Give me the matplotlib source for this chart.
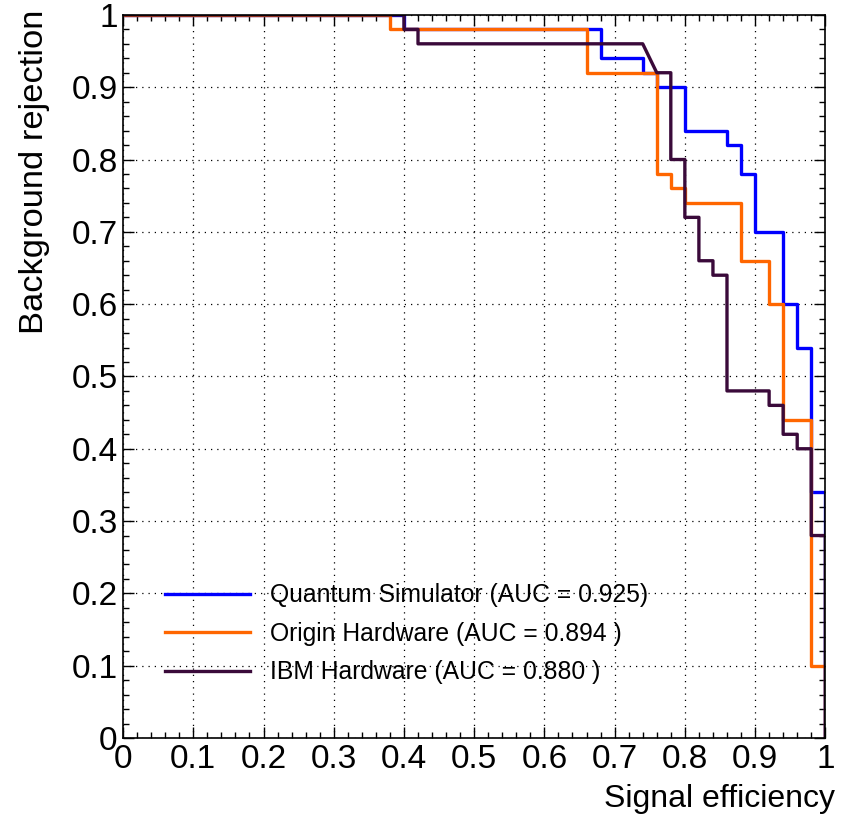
import matplotlib
matplotlib.use("Agg")
import matplotlib.pyplot as plt
from matplotlib.ticker import MultipleLocator, FormatStrFormatter

# ROC curves (signal efficiency, background rejection)
sim_eff = [0, 0.40, 0.40, 0.68, 0.68, 0.74, 0.74, 0.76, 0.76, 0.80, 0.80, 0.86, 0.86,
           0.88, 0.88, 0.90, 0.90, 0.94, 0.94, 0.96, 0.96, 0.98, 0.98, 1.0, 1.0]
sim_rej = [1, 1, 0.98, 0.98, 0.94, 0.94, 0.92, 0.92, 0.90, 0.90, 0.84, 0.84, 0.82,
           0.82, 0.78, 0.78, 0.70, 0.70, 0.60, 0.60, 0.54, 0.54, 0.34, 0.34, 0]

origin_eff = [0, 0.38, 0.38, 0.66, 0.66, 0.76, 0.76, 0.78, 0.78, 0.80, 0.80, 0.88, 0.88,
              0.92, 0.92, 0.94, 0.94, 0.98, 0.98, 1.0, 1.0]
origin_rej = [1, 1, 0.98, 0.98, 0.92, 0.92, 0.78, 0.78, 0.76, 0.76, 0.74, 0.74, 0.66,
              0.66, 0.60, 0.60, 0.44, 0.44, 0.10, 0.10, 0]

ibm_eff = [0, 0.40, 0.40, 0.42, 0.42, 0.74, 0.76, 0.78, 0.78, 0.80, 0.80, 0.82, 0.82,
           0.84, 0.84, 0.86, 0.86, 0.92, 0.92, 0.94, 0.94, 0.96, 0.96, 0.98, 0.98, 1.0, 1.0]
ibm_rej = [1, 1, 0.98, 0.98, 0.96, 0.96, 0.92, 0.92, 0.80, 0.80, 0.72, 0.72, 0.66,
           0.66, 0.64, 0.64, 0.48, 0.48, 0.46, 0.46, 0.42, 0.42, 0.40, 0.40, 0.28, 0.28, 0]

labels = ["Quantum Simulator (AUC = 0.925)",
          "Origin Hardware (AUC = 0.894 )",
          "IBM Hardware (AUC = 0.880 )"]
colors = ["#0000ff", "#ff6600", "#3a0a3a"]

plt.rcParams['font.family'] = ['Liberation Sans', 'DejaVu Sans']

fig = plt.figure(figsize=(8.43, 8.18), dpi=100)
ax = fig.add_axes([0.146, 0.0978, 0.833, 0.884])

ax.plot(sim_eff, sim_rej, color=colors[0], lw=2.4, label=labels[0])
ax.plot(origin_eff, origin_rej, color=colors[1], lw=2.4, label=labels[1])
ax.plot(ibm_eff, ibm_rej, color=colors[2], lw=2.4, label=labels[2])

ax.set_xlim(0, 1)
ax.set_ylim(0, 1)

ax.xaxis.set_major_locator(MultipleLocator(0.1))
ax.xaxis.set_minor_locator(MultipleLocator(0.02))
ax.yaxis.set_major_locator(MultipleLocator(0.1))
ax.yaxis.set_minor_locator(MultipleLocator(0.02))
ax.xaxis.set_major_formatter(FormatStrFormatter('%g'))
ax.yaxis.set_major_formatter(FormatStrFormatter('%g'))

ax.tick_params(which='both', direction='in', top=True, right=True, labelsize=24,
               width=1, color='black')
ax.tick_params(which='major', length=8, pad=4)
ax.tick_params(which='minor', length=4)
for sp in ax.spines.values():
    sp.set_linewidth(1.2)

ax.grid(True, which='major', color='black', linestyle=(0, (1, 4)), linewidth=0.9)

ax.set_xlabel("Signal efficiency", fontsize=23, ha='right', va='top')
ax.xaxis.set_label_coords(1.0142, -0.064)
ax.set_ylabel("Background rejection", fontsize=24.8, ha='right')
ax.yaxis.set_label_coords(-0.104, 1.007)

ax.legend(loc='upper left', bbox_to_anchor=(0.0598, 0.214), frameon=False, fontsize=17.8,
          handlelength=3.44, handletextpad=0.81, labelspacing=0.59,
          borderpad=0, borderaxespad=0)

fig.savefig("out.png", dpi=100)
